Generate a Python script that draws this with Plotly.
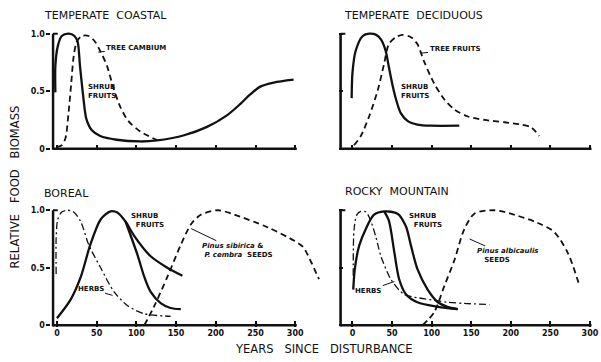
import plotly.graph_objects as go

# ---------------- data (years since disturbance, relative biomass) ----------------
# Temperate coastal
tc_shrub_x = [-2, -2, 1, 6, 15, 22, 26, 29, 33, 37, 44, 54.5, 75, 105, 126, 159, 189, 214, 231, 243, 256, 273, 298]
tc_shrub_y = [0.49, 0.72, 0.89, 0.98, 1.0, 0.98, 0.93, 0.72, 0.46, 0.26, 0.16, 0.11, 0.078, 0.063, 0.072, 0.115, 0.19, 0.29, 0.39, 0.47, 0.54, 0.575, 0.60]
tc_tree_x = [0, 6, 10.5, 14.7, 18, 21, 25, 31, 40, 48, 54.5, 63, 71, 80, 90, 105, 126]
tc_tree_y = [0.014, 0.03, 0.086, 0.32, 0.57, 0.80, 0.93, 0.98, 0.98, 0.93, 0.85, 0.72, 0.53, 0.36, 0.24, 0.15, 0.075]

# Temperate deciduous
td_shrub_x = [-1, 0, 4, 13, 21, 30, 36, 42, 46, 51, 55, 61, 70, 82, 99, 135]
td_shrub_y = [0.44, 0.66, 0.85, 0.98, 1.0, 0.99, 0.95, 0.85, 0.71, 0.54, 0.43, 0.31, 0.24, 0.21, 0.20, 0.20]
td_tree_x = [2, 10.5, 21, 32, 40, 46, 55, 63, 74, 82, 91, 103, 116, 129, 146, 167, 192, 213, 226, 236]
td_tree_y = [0.03, 0.11, 0.28, 0.51, 0.74, 0.91, 0.97, 0.99, 0.97, 0.91, 0.75, 0.57, 0.43, 0.34, 0.28, 0.25, 0.23, 0.21, 0.185, 0.11]

# Boreal
bo_herb_x = [-1, -1, 1, 6, 13, 21, 30, 40, 55, 72, 89, 110, 143]
bo_herb_y = [0.445, 0.76, 0.92, 0.985, 1.0, 0.985, 0.90, 0.70, 0.50, 0.29, 0.17, 0.10, 0.078]
bo_shrub_rise_x = [0, 17, 30, 42, 55, 67.5, 76, 86.5]
bo_shrub_rise_y = [0.06, 0.22, 0.42, 0.70, 0.92, 0.99, 0.98, 0.90]
bo_shrub_a_x = [97, 118, 139, 158]
bo_shrub_a_y = [0.78, 0.60, 0.50, 0.43]
bo_shrub_b_x = [101, 110, 118, 131, 143, 156]
bo_shrub_b_y = [0.62, 0.42, 0.29, 0.19, 0.15, 0.14]
bo_pine_x = [110, 122, 139, 156, 169, 181, 203, 224, 266, 300, 310, 320, 330]
bo_pine_y = [0.0, 0.16, 0.42, 0.70, 0.88, 0.96, 1.0, 0.96, 0.85, 0.73, 0.68, 0.55, 0.40]

# Rocky Mountain
rm_herb_x = [1, 2, 5.5, 10.5, 17, 23, 29.5, 36, 48.5, 65, 91, 120, 141, 173]
rm_herb_y = [0.43, 0.83, 0.96, 0.99, 0.985, 0.91, 0.77, 0.60, 0.40, 0.27, 0.23, 0.20, 0.19, 0.18]
rm_shrub_rise_x = [1, 3, 8.4, 17, 27, 40]
rm_shrub_rise_y = [0.31, 0.49, 0.69, 0.84, 0.96, 0.99]
rm_shrub_a_x = [46, 53, 59, 67.5, 82, 108, 133]
rm_shrub_a_y = [0.91, 0.63, 0.40, 0.27, 0.20, 0.16, 0.14]
rm_shrub_b_x = [57, 67.5, 74, 82, 95, 108, 120, 133]
rm_shrub_b_y = [0.97, 0.86, 0.69, 0.49, 0.31, 0.20, 0.16, 0.14]
rm_pine_x = [88.6, 103, 116, 129, 141, 154, 179, 205, 234, 255, 272, 287]
rm_pine_y = [0.0, 0.11, 0.34, 0.57, 0.83, 0.97, 1.0, 0.96, 0.89, 0.81, 0.63, 0.34]

x_ticks = [0, 50, 100, 150, 200, 250, 300]
y_ticks = [0, 0.5, 1.0]
y_tick_labels = ["0", "0.5", "1.0"]
panel_titles = ["TEMPERATE\u00a0\u00a0COASTAL", "TEMPERATE\u00a0\u00a0DECIDUOUS",
                "BOREAL", "ROCKY\u00a0\u00a0MOUNTAIN"]

# ---------------- figure ----------------
INK = "#111111"
FONT = "DejaVu Sans"
fig = go.Figure()

SOLID = dict(color=INK, width=2.3, shape="spline", smoothing=0.8)
DASH = dict(color=INK, width=1.8, dash="6px,4px", shape="spline", smoothing=0.8)
DDOT = dict(color=INK, width=1.3, dash="7px,3px,2px,3px", shape="spline", smoothing=0.8)

def add(x, y, line, xa, ya):
    fig.add_trace(go.Scatter(x=x, y=y, mode="lines", line=line, xaxis=xa, yaxis=ya,
                             showlegend=False, hoverinfo="skip"))

add(tc_shrub_x, tc_shrub_y, SOLID, "x", "y")
add(tc_tree_x, tc_tree_y, DASH, "x", "y")
add(td_shrub_x, td_shrub_y, SOLID, "x2", "y2")
add(td_tree_x, td_tree_y, DASH, "x2", "y2")
add(bo_herb_x, bo_herb_y, DDOT, "x3", "y3")
add(bo_shrub_rise_x + bo_shrub_a_x, bo_shrub_rise_y + bo_shrub_a_y, SOLID, "x3", "y3")
add(bo_shrub_rise_x[-1:] + bo_shrub_b_x, bo_shrub_rise_y[-1:] + bo_shrub_b_y, SOLID, "x3", "y3")
add(bo_pine_x, bo_pine_y, DASH, "x3", "y3")
add(rm_herb_x, rm_herb_y, DDOT, "x4", "y4")
add(rm_shrub_rise_x + rm_shrub_b_x, rm_shrub_rise_y + rm_shrub_b_y, SOLID, "x4", "y4")
add(rm_shrub_rise_x[-1:] + rm_shrub_a_x, rm_shrub_rise_y[-1:] + rm_shrub_a_y, SOLID, "x4", "y4")
add(rm_pine_x, rm_pine_y, DASH, "x4", "y4")

W, H = 601, 362
LEFT_DOM = [51.4 / W, 323 / W]
RIGHT_DOM = [339.0 / W, 1.0]
TOP_DOM = [(H - 151.7) / H, (H - 22.4) / H]
BOT_DOM = [(H - 329.7) / H, (H - 200.4) / H]
LEFT_RANGE = [-7, 335]
RIGHT_RANGE = [-17, 314]
Y_RANGE = [-0.015, 1.1]

tickfont = dict(family=FONT, size=8, color=INK)
panels = [
    ("x", "y", LEFT_DOM, TOP_DOM, LEFT_RANGE, False, True),
    ("x2", "y2", RIGHT_DOM, TOP_DOM, RIGHT_RANGE, False, False),
    ("x3", "y3", LEFT_DOM, BOT_DOM, LEFT_RANGE, True, True),
    ("x4", "y4", RIGHT_DOM, BOT_DOM, RIGHT_RANGE, True, False),
]
layout_axes = {}
for xa, ya, xd, yd, xr, xlab, ylab in panels:
    xk = "xaxis" + xa[1:]
    yk = "yaxis" + ya[1:]
    layout_axes[xk] = dict(domain=xd, range=xr, anchor=ya, showgrid=False, zeroline=False,
                           showline=False, tickmode="array", tickvals=x_ticks,
                           ticktext=["<b>%d</b>" % v for v in x_ticks], ticks="inside", ticklen=5.5,
                           tickwidth=1.6, tickcolor=INK, showticklabels=xlab,
                           ticklabeloverflow="allow",
                           tickfont=tickfont, fixedrange=True)
    layout_axes[yk] = dict(domain=yd, range=Y_RANGE, anchor=xa, showgrid=False, zeroline=False,
                           showline=False, tickmode="array", tickvals=y_ticks,
                           ticktext=["<b>%s</b>" % t for t in y_tick_labels],
                           ticks="outside" if ylab else "inside",
                           ticklen=4, tickwidth=1.6, tickcolor=INK, showticklabels=ylab,
                           tickfont=tickfont, fixedrange=True)
    x0 = xr[0] + 2
    fig.add_shape(type="line", xref=xa, yref=ya, x0=x0, x1=302, y0=0, y1=0,
                  line=dict(color=INK, width=2.6))
    fig.add_shape(type="line", xref=xa, yref=ya, x0=x0, x1=x0, y0=-0.01, y1=1.0,
                  line=dict(color=INK, width=2.6))
    fig.add_shape(type="line", xref=xa, yref=ya, x0=x0, x1=x0 + 6, y0=1.0, y1=1.0,
                  line=dict(color=INK, width=2))

fig.update_layout(width=W, height=H, margin=dict(l=0, r=0, t=0, b=0),
                  paper_bgcolor="white", plot_bgcolor="white",
                  font=dict(family=FONT, color=INK), **layout_axes)

# panel titles
title_pos = [(42, 16), (342, 16), (42, 195), (343, 193)]
for (px, py), t in zip(title_pos, panel_titles):
    fig.add_annotation(text=t, xref="paper", yref="paper", x=px / W, y=1 - py / H,
                       xanchor="left", yanchor="middle", showarrow=False,
                       font=dict(family=FONT, size=11, color=INK))

# axis titles
fig.add_annotation(text="YEARS\u00a0\u00a0\u00a0SINCE\u00a0\u00a0\u00a0DISTURBANCE", xref="paper", yref="paper",
                   x=324 / W, y=1 - 352 / H, xanchor="center", yanchor="middle", showarrow=False,
                   font=dict(family=FONT, size=11.5, color=INK))
fig.add_annotation(text="RELATIVE\u00a0\u00a0\u00a0FOOD\u00a0\u00a0\u00a0BIOMASS", xref="paper", yref="paper",
                   x=15 / W, y=1 - 189 / H, xanchor="center", yanchor="middle", showarrow=False,
                   textangle=-90, font=dict(family=FONT, size=11.5, color=INK))

# curve labels
lab = dict(family=FONT, size=7, color=INK)
def note(text, xa, ya, x, y, ax=0, ay=0, arrow=True):
    kw = dict(text="<b>" + text + "</b>", xref=xa, yref=ya, x=x, y=y, showarrow=arrow,
              font=lab, align="left")
    if arrow:
        kw.update(ax=ax, ay=ay, arrowhead=0, arrowwidth=1, arrowcolor=INK)
    else:
        kw.update(xanchor="left")
    fig.add_annotation(**kw)

note("TREE CAMBIUM", "x", "y", 52, 0.84, 38, -4)
note("SHRUB<br>FRUITS", "x", "y", 36, 0.5, arrow=False)
note("TREE FRUITS", "x2", "y2", 86, 0.83, 34, -4)
note("SHRUB<br>FRUITS", "x2", "y2", 59, 0.5, arrow=False)
note("SHRUB<br>\u00a0\u00a0FRUITS", "x3", "y3", 91, 0.86, 18, -6)
note("<i>Pinus sibirica</i> &<br>\u00a0<i>P. cembra</i>\u00a0\u00a0SEEDS", "x3", "y3", 169, 0.84, 46, 22)
note("HERBS", "x3", "y3", 70, 0.26, -22, -6)
note("SHRUB<br>\u00a0\u00a0FRUITS", "x4", "y4", 70, 0.84, 18, -8)
note("<i>Pinus albicaulis</i><br>\u00a0\u00a0\u00a0SEEDS", "x4", "y4", 148, 0.75, 38, 17)
note("HERBS", "x4", "y4", 53, 0.38, -26, 9)

fig.write_html("out.html", config={"displayModeBar": False},
               post_script="document.body.style.margin='0';")
